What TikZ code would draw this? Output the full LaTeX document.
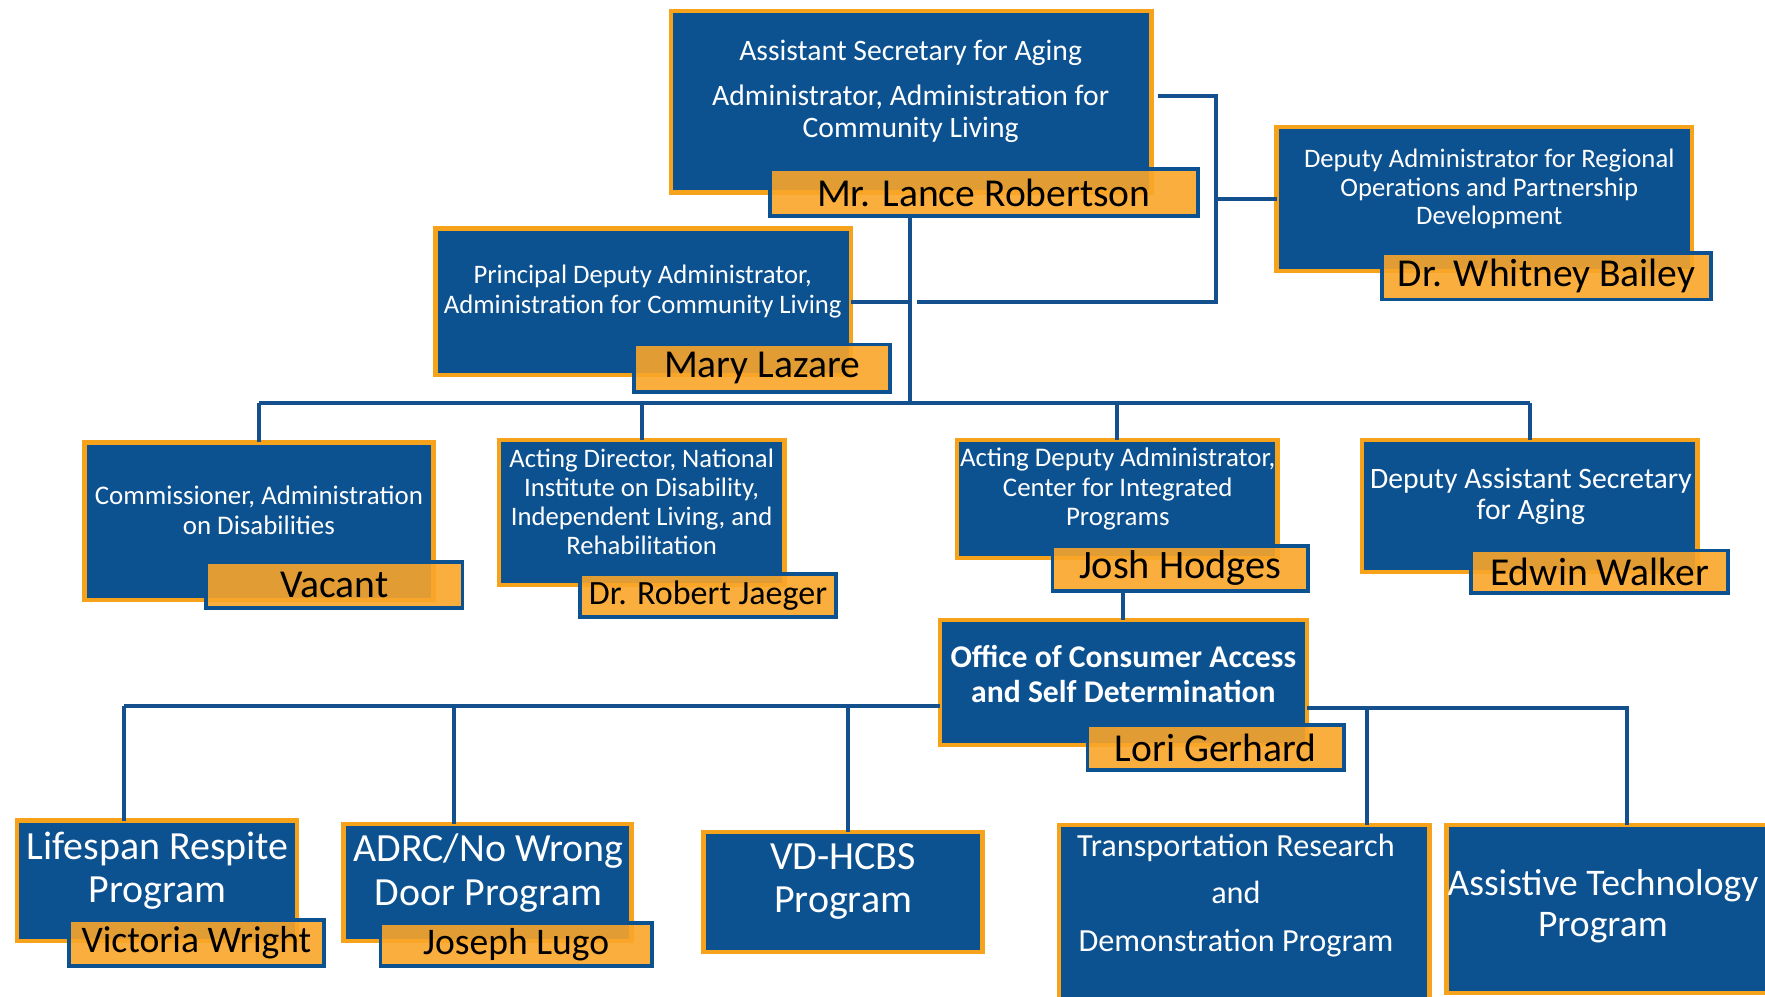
\documentclass[tikz,border=0pt]{standalone}
\usepackage{fontspec}
\setmainfont{Carlito}
\usetikzlibrary{positioning,calc}
\definecolor{aclBlue}{HTML}{0C5190}
\definecolor{aclOrange}{HTML}{F7A21B}
\definecolor{barColor}{HTML}{F9A62A}
\definecolor{lineColor}{HTML}{14508E}
\newcommand{\fsz}[2]{\fontsize{#1pt}{#2pt}\selectfont}
\tikzset{
	unit/.style={draw=aclOrange, fill=aclBlue, line width=2.2pt, inner sep=0, outer sep=0},
	namebar/.style={draw=aclBlue, fill=barColor, fill opacity=0.9, text opacity=1,
		line width=1.9pt, inner sep=0, outer sep=0, text=black},
	title/.style={text=white, align=center, inner sep=0},
	link/.style={draw=lineColor, line width=2pt}
}

\begin{document}
\begin{tikzpicture}[x=0.02cm, y=-0.02cm]
	\useasboundingbox (0,0) rectangle (1568,885);
	\fill[white] (0,0) rectangle (1568,885);
	% top
	\node[unit, minimum width=8.54cm, minimum height=3.22cm] (asa) at (809.5,90.5) {};
	\node[title, font=\fsz{15}{16}] (asa_1) at (809,47) {Assistant Secretary for Aging};
	\node[title, font=\fsz{15}{15.8}] (asa_2) at (809,101) {Administrator, Administration for\\Community Living};
	\node[namebar, minimum width=7.6cm, minimum height=0.84cm, font=\fsz{20}{21}] (asa_n) at (874,171) {Mr. Lance Robertson};
	\node[unit, minimum width=7.38cm, minimum height=2.56cm] (reg) at (1318.5,177) {};
	\node[title, font=\fsz{13.5}{14.5}] (reg_1) at (1323,168) {Deputy Administrator for Regional\\Operations and Partnership\\Development};
	\node[namebar, minimum width=5.84cm, minimum height=0.82cm, font=\fsz{20}{21}] (reg_n) at (1374,245.5) {Dr. Whitney Bailey};
	\node[unit, minimum width=7.38cm, minimum height=2.6cm] (pda) at (571.5,268) {};
	\node[title, font=\fsz{13.5}{14.7}] (pda_1) at (571,259) {Principal Deputy Administrator,\\Administration for Community Living};
	\node[namebar, minimum width=4.56cm, minimum height=0.84cm, font=\fsz{20}{21}] (pda_n) at (677,327) {Mary Lazare};
	% second row
	\node[unit, minimum width=6.2cm, minimum height=2.8cm] (aod) at (230,463) {};
	\node[title, font=\fsz{13.6}{15.3}] (aod_1) at (230,453.5) {Commissioner, Administration\\on Disabilities};
	\node[namebar, minimum width=4.56cm, minimum height=0.82cm, font=\fsz{20}{21}] (aod_n) at (297,519.5) {Vacant};
	\node[unit, minimum width=5.08cm, minimum height=2.58cm] (nid) at (570,455.5) {};
	\node[title, font=\fsz{13.5}{14.7}] (nid_1) at (570,446) {Acting Director, National\\Institute on Disability,\\Independent Living, and\\Rehabilitation};
	\node[namebar, minimum width=4.56cm, minimum height=0.76cm, font=\fsz{17.2}{18}] (nid_n) at (629,529) {Dr. Robert Jaeger};
	\node[unit, minimum width=5.7cm, minimum height=2.1cm] (cip) at (992.5,443.5) {};
	\node[title, font=\fsz{13.6}{15}] (cip_1) at (993,434.5) {Acting Deputy Administrator,\\Center for Integrated\\Programs};
	\node[namebar, minimum width=4.54cm, minimum height=0.8cm, font=\fsz{20.4}{21}] (cip_n) at (1048.5,505) {Josh Hodges};
	\node[unit, minimum width=5.96cm, minimum height=2.34cm] (dasa) at (1359,449.5) {};
	\node[title, font=\fsz{15}{15.9}] (dasa_1) at (1360,441) {Deputy Assistant Secretary\\for Aging};
	\node[namebar, minimum width=4.56cm, minimum height=0.76cm, font=\fsz{20}{21}] (dasa_n) at (1421,508) {Edwin Walker};
	% office
	\node[unit, minimum width=6.52cm, minimum height=2.22cm] (ocasd) at (998,606.5) {};
	\node[title, font=\fsz{16}{17.6}\bfseries] (ocasd_1) at (998,598.5) {Office of Consumer Access\\and Self Determination};
	\node[namebar, minimum width=4.56cm, minimum height=0.8cm, font=\fsz{20}{21}] (ocasd_n) at (1080,664) {Lori Gerhard};
	% programs
	\node[unit, minimum width=4.98cm, minimum height=2.14cm] (lrp) at (139.5,782.5) {};
	\node[title, font=\fsz{20.2}{22.1}] (lrp_1) at (140,773.5) {Lifespan Respite\\Program};
	\node[namebar, minimum width=4.54cm, minimum height=0.82cm, font=\fsz{19}{20}] (lrp_n) at (174.5,837.5) {Victoria Wright};
	\node[unit, minimum width=5.12cm, minimum height=2.08cm] (adrc) at (433,784) {};
	\node[title, font=\fsz{20.2}{22.1}] (adrc_1) at (434,775.5) {ADRC/No Wrong\\Door Program};
	\node[namebar, minimum width=4.82cm, minimum height=0.76cm, font=\fsz{19}{20}] (adrc_n) at (458.5,839) {Joseph Lugo};
	\node[unit, minimum width=4.96cm, minimum height=2.14cm] (vd) at (749,792.5) {};
	\node[title, font=\fsz{20.2}{21.5}] (vd_1) at (749,783) {VD-HCBS\\Program};
	\node[unit, minimum width=6.58cm, minimum height=3.24cm] (trdp) at (1105.5,814) {};
	\node[title, font=\fsz{16.3}{24.1}] (trdp_1) at (1098,795.5) {Transportation Research\\and\\Demonstration Program};
	\node[unit, minimum width=5.8cm, minimum height=2.98cm] (atp) at (1430,807.5) {};
	\node[title, font=\fsz{19}{20.4}] (atp_1) at (1424,805) {Assistive Technology\\Program};
	% lines
	\coordinate (trunk) at (808,358);
	\coordinate (rbus) at (1080,85);
	\coordinate (pdaJoin) at (815,268);
	\draw[link] ($(asa.east |- rbus)+(6,0)$) -- (rbus) -- (rbus |- pdaJoin) -- (pdaJoin);
	\draw[link] (rbus |- reg.west) -- (reg.west);
	\draw[link] (asa_n.south -| trunk) -- (trunk);
	\draw[link] (pda.east) -- (pda.east -| trunk);
	\draw[link] (aod.north |- trunk) -- (dasa.north |- trunk);
	\foreach \n in {aod,nid,cip,dasa}
		\draw[link] (\n.north |- trunk) -- (\n.north);
	\draw[link] (cip_n.south -| ocasd.north) -- (ocasd.north);
	\coordinate (lbus) at (110,627);
	\coordinate (rbus2) at (1445,629);
	\draw[link] (ocasd.west |- lbus) -- (lbus);
	\foreach \n/\x in {lrp/110,adrc/403,vd/753}
		\draw[link] (\x,627) -- (\n.north -| \x,0);
	\draw[link] (ocasd.east |- rbus2) -- (rbus2) -- (atp.north -| rbus2);
	\draw[link] (1214,629) -- (trdp.north -| 1214,0);
\end{tikzpicture}
\end{document}
